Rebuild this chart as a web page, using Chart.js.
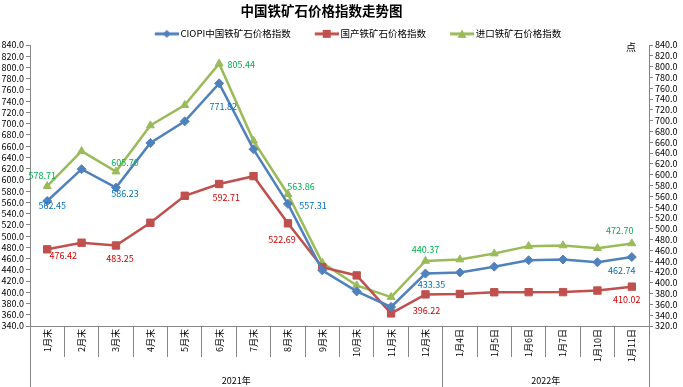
<!DOCTYPE html>
<html>
<head>
<meta charset="utf-8">
<title>中国铁矿石价格指数走势图</title>
<script src="https://cdn.jsdelivr.net/npm/chart.js@4.4.1/dist/chart.umd.min.js"></script>
<style>
    body { margin: 0; background: #fff; }
    #wrap { width: 683px; height: 387px; }
</style>
</head>
<body>
<div id="wrap"><canvas id="chart" width="683" height="387"></canvas></div>
<script>
// Data
const categories = ['1月末', '2月末', '3月末', '4月末', '5月末', '6月末', '7月末', '8月末', '9月末', '10月末', '11月末', '12月末',
    '1月4日', '1月5日', '1月6日', '1月7日', '1月10日', '1月11日'];
const yearLabels = ['2021年', '2022年'];
const yearSpans = [12, 6]; // how many categories fall under each year

const ciopiIndex = [562.45, 619.0, 586.23, 665.6, 704.2, 771.82, 654.4, 557.31, 439.0, 401.5, 374.0, 433.35,
    435.3, 445.6, 457.0, 458.2, 453.4, 462.74];
const domesticIndex = [476.42, 488.2, 483.25, 523.7, 571.7, 592.71, 606.6, 522.69, 444.8, 430.0, 362.4, 396.22,
    397.0, 400.0, 400.2, 400.3, 403.1, 410.02];
const importIndex = [578.71, 643.6, 605.70, 691.0, 728.7, 805.44, 662.7, 563.86, 436.8, 395.0, 373.5, 440.37,
    443.0, 454.0, 467.8, 469.0, 464.0, 472.70];

const labeledPoints = [0, 2, 5, 7, 11, 17]; // points that carry a value label
const leftAxisRange = [340, 840];
const rightAxisRange = [320, 840];
const tickStep = 20;

// Styles
const BLUE = '#4F81BD', RED = '#C0504D', GREEN = '#9BBB59';
const AXIS_GRAY = '#868686';
Chart.defaults.font.family = '"Noto Sans CJK SC", "Liberation Sans", sans-serif';
Chart.defaults.color = '#000';

// label offsets (dx, dy) from the point, per dataset, in labeledPoints order
const labelStyles = [
    { color: '#0070C0', offsets: [[5, 5], [9, 6], [4, 23], [25, 2], [6, 11], [-10, 14]] },
    { color: '#D00000', offsets: [[16, 6], [4, 13], [7, 14], [-6, 16], [1, 16], [-5, 13]] },
    { color: '#00B050', offsets: [[-5, -11], [9, -9], [22, 1], [13, -8], [0, -11], [-12, -13]] }
];

// Year group boundaries / centres for the second level of the x axis
const yearBounds = [0];
yearSpans.forEach(s => yearBounds.push(yearBounds[yearBounds.length - 1] + s));
const yearCenters = yearSpans.map((s, i) => yearBounds[i] + s / 2);

// Legend icon: line with the marker in the middle, drawn on a small canvas
function legendIcon(color, shape) {
    const c = document.createElement('canvas');
    c.width = 50; c.height = 12;
    const ctx = c.getContext('2d');
    ctx.strokeStyle = color;
    ctx.fillStyle = color;
    ctx.lineWidth = 3;
    ctx.beginPath(); ctx.moveTo(26, 6); ctx.lineTo(50, 6); ctx.stroke();
    ctx.beginPath();
    if (shape === 'diamond') {
        ctx.moveTo(38, 2); ctx.lineTo(42, 6); ctx.lineTo(38, 10); ctx.lineTo(34, 6);
    } else if (shape === 'square') {
        ctx.rect(34, 2, 8, 8);
    } else {
        ctx.moveTo(38, 1.5); ctx.lineTo(42.5, 10); ctx.lineTo(33.5, 10);
    }
    ctx.closePath();
    ctx.fill();
    return c;
}
const legendIcons = [legendIcon(BLUE, 'diamond'), legendIcon(RED, 'square'), legendIcon(GREEN, 'triangle')];

// Value labels next to selected points
const valueLabels = {
    id: 'valueLabels',
    afterDatasetsDraw(chart) {
        const ctx = chart.ctx;
        ctx.save();
        ctx.font = '9px "Noto Sans CJK SC", "Liberation Sans", sans-serif';
        ctx.textAlign = 'center';
        ctx.textBaseline = 'middle';
        chart.data.datasets.forEach((ds, i) => {
            const meta = chart.getDatasetMeta(i);
            const style = labelStyles[i];
            ctx.fillStyle = style.color;
            labeledPoints.forEach((idx, k) => {
                const pt = meta.data[idx];
                const [dx, dy] = style.offsets[k];
                ctx.fillText(ds.data[idx].toFixed(2), pt.x + dx, pt.y + dy);
            });
        });
        ctx.restore();
    }
};

// Unit mark "点" at the top of the right axis, and header placement like the original
const extras = {
    id: 'extras',
    afterLayout(chart) {
        chart.titleBlock.left -= 20;
        chart.titleBlock.right -= 20;
        chart.legend.left += 5;
        chart.legend.right += 5;
        // let the rotated category labels run a little below their box
        chart.scales.x.bottom += 12;
    },
    afterDraw(chart) {
        const ctx = chart.ctx;
        ctx.save();
        ctx.font = '10px "Noto Sans CJK SC", sans-serif';
        ctx.fillStyle = '#000';
        ctx.textAlign = 'center';
        ctx.textBaseline = 'middle';
        ctx.fillText('点', chart.chartArea.right - 18, chart.chartArea.top + 2);
        ctx.restore();
    }
};

const pointDefaults = { borderWidth: 2.5, pointBorderWidth: 1, tension: 0, fill: false };

new Chart(document.getElementById('chart'), {
    type: 'line',
    data: {
        labels: categories,
        datasets: [
            { ...pointDefaults, label: 'CIOPI中国铁矿石价格指数', data: ciopiIndex, yAxisID: 'y',
              borderColor: BLUE, backgroundColor: BLUE, pointStyle: 'rectRot', pointRadius: 4.5 },
            { ...pointDefaults, label: '国产铁矿石价格指数', data: domesticIndex, yAxisID: 'y',
              borderColor: RED, backgroundColor: RED, pointStyle: 'rect', pointRadius: 5.2 },
            { ...pointDefaults, label: '进口铁矿石价格指数', data: importIndex, yAxisID: 'y1',
              borderColor: GREEN, backgroundColor: GREEN, pointStyle: 'triangle', pointRadius: 4.6 }
        ]
    },
    options: {
        responsive: false,
        animation: false,
        devicePixelRatio: 1,
        layout: { padding: 0 },
        plugins: {
            title: {
                display: true,
                text: '中国铁矿石价格指数走势图',
                font: { size: 13.5, weight: 'bold' },
                color: '#000',
                padding: { top: 2.7, bottom: 9.2 }
            },
            legend: {
                display: true,
                maxHeight: 16.9,
                labels: {
                    usePointStyle: true,
                    pointStyleWidth: 44,
                    padding: 1,
                    font: { size: 9.5 },
                    color: '#000',
                    generateLabels: chart => chart.data.datasets.map((ds, i) => ({
                        text: ds.label,
                        pointStyle: legendIcons[i],
                        datasetIndex: i,
                        hidden: false,
                        lineWidth: 0,
                        fillStyle: ds.borderColor,
                        strokeStyle: ds.borderColor
                    }))
                }
            },
            tooltip: { enabled: false }
        },
        scales: {
            x: {
                type: 'category',
                position: 'bottom',
                weight: 0,
                offset: true,
                grid: { offset: true, drawOnChartArea: false, tickLength: 31, color: AXIS_GRAY },
                border: { color: AXIS_GRAY },
                ticks: { minRotation: 90, maxRotation: 90, autoSkip: false, padding: -28, font: { size: 9 }, color: '#000' },
                afterFit: scale => { scale.height = 31; }
            },
            x2: {
                type: 'linear',
                position: 'bottom',
                weight: 1,
                min: 0,
                max: categories.length,
                afterBuildTicks: scale => {
                    scale.ticks = [...yearBounds, ...yearCenters].sort((a, b) => a - b).map(v => ({ value: v }));
                },
                grid: {
                    drawOnChartArea: false,
                    tickLength: 30,
                    color: ctx => (ctx.tick && yearBounds.includes(ctx.tick.value)) ? AXIS_GRAY : 'rgba(0,0,0,0)'
                },
                border: { display: false },
                ticks: {
                    autoSkip: false,
                    maxRotation: 0,
                    padding: -12,
                    font: { size: 9 },
                    color: '#000',
                    callback: value => {
                        const k = yearCenters.indexOf(value);
                        return k >= 0 ? yearLabels[k] : '';
                    }
                },
                afterFit: scale => { scale.height = 30; }
            },
            y: {
                position: 'left',
                min: leftAxisRange[0],
                max: leftAxisRange[1],
                grid: { drawOnChartArea: false, tickLength: 4, color: AXIS_GRAY },
                border: { color: AXIS_GRAY },
                ticks: { stepSize: tickStep, autoSkip: false, padding: 2, font: { size: 9 }, color: '#000',
                         callback: v => v.toFixed(1) },
                afterFit: scale => { scale.width = 30; }
            },
            y1: {
                position: 'right',
                min: rightAxisRange[0],
                max: rightAxisRange[1],
                grid: { drawOnChartArea: false, tickLength: 4, color: AXIS_GRAY },
                border: { color: AXIS_GRAY },
                ticks: { stepSize: tickStep, autoSkip: false, padding: 2, font: { size: 9 }, color: '#000',
                         callback: v => v.toFixed(1) },
                afterFit: scale => { scale.width = 34; }
            }
        }
    },
    plugins: [valueLabels, extras]
});
</script>
</body>
</html>
